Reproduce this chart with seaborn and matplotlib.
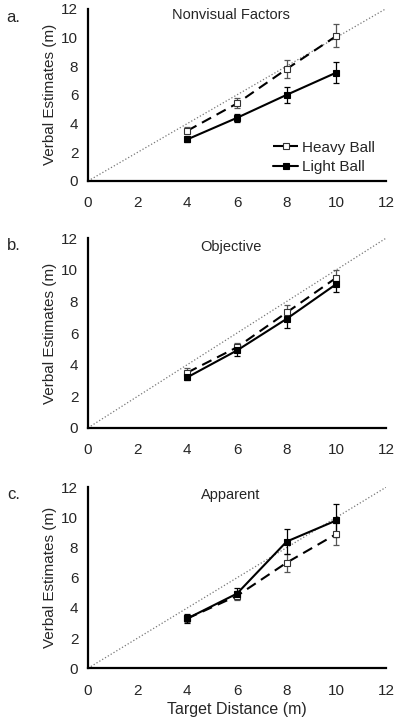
import matplotlib
matplotlib.use('Agg')
import matplotlib.pyplot as plt
import seaborn as sns
import pandas as pd

# target distances (m)
distances = [4, 6, 8, 10]
panels = ['Nonvisual Factors', 'Objective', 'Apparent']
panel_tags = ['a.', 'b.', 'c.']

# verbal estimates, per panel
heavy_mean = [[3.5, 5.4, 7.8, 10.1], [3.5, 5.1, 7.3, 9.5], [3.3, 4.8, 7.0, 8.9]]
heavy_err = [[0.25, 0.35, 0.6, 0.8], [0.3, 0.3, 0.5, 0.5], [0.25, 0.3, 0.6, 0.7]]
light_mean = [[2.9, 4.4, 6.0, 7.55], [3.2, 4.9, 6.9, 9.1], [3.3, 4.95, 8.4, 9.8]]
light_err = [[0.15, 0.3, 0.55, 0.75], [0.2, 0.35, 0.55, 0.5], [0.3, 0.35, 0.85, 1.1]]

sns.set_style('white')
plt.rcParams['font.family'] = ['Liberation Sans', 'DejaVu Sans']

fig = plt.figure(figsize=(4, 7.24), dpi=100)

# axes boxes in figure coords (left, bottom, width, height)
boxes = [(0.22, 0.75, 0.745, 0.238),
         (0.22, 0.409, 0.745, 0.262),
         (0.22, 0.077, 0.745, 0.250)]
tag_y = [0.99, 1.0, 1.0]

for i, name in enumerate(panels):
    ax = fig.add_axes(boxes[i])
    heavy = pd.DataFrame({'distance': distances, 'estimate': heavy_mean[i], 'err': heavy_err[i]})
    light = pd.DataFrame({'distance': distances, 'estimate': light_mean[i], 'err': light_err[i]})

    # veridical line
    ax.plot([0, 12], [0, 12], linestyle=':', color='#777777', linewidth=0.9, zorder=1)

    ax.errorbar(heavy['distance'], heavy['estimate'], yerr=heavy['err'], fmt='none',
                ecolor='#555555', elinewidth=0.9, capsize=2, capthick=0.9, zorder=2)
    ax.errorbar(light['distance'], light['estimate'], yerr=light['err'], fmt='none',
                ecolor='black', elinewidth=0.9, capsize=2, capthick=0.9, zorder=2)

    sns.lineplot(data=heavy, x='distance', y='estimate', ax=ax, color='black',
                 linewidth=1.5, linestyle=(0, (5, 3)), marker='s', markersize=5,
                 markerfacecolor='white', markeredgecolor='#333333', markeredgewidth=0.8,
                 label='Heavy Ball', zorder=3)
    sns.lineplot(data=light, x='distance', y='estimate', ax=ax, color='black',
                 linewidth=1.5, marker='s', markersize=5,
                 markerfacecolor='black', markeredgecolor='black', markeredgewidth=0.8,
                 label='Light Ball', zorder=4)

    ax.set_xlim(0, 12)
    ax.set_ylim(0, 12)
    ax.set_xticks(range(0, 13, 2))
    ax.set_yticks(range(0, 13, 2))
    ax.tick_params(labelsize=11, length=0)
    ax.tick_params(axis='x', pad=11)
    ax.tick_params(axis='y', pad=7)
    for s in ['top', 'right']:
        ax.spines[s].set_visible(False)
    for s in ['left', 'bottom']:
        ax.spines[s].set_linewidth(1.6)
        ax.spines[s].set_color('black')
    ax.set_ylabel('Verbal Estimates (m)', fontsize=11, labelpad=3)
    ax.set_xlabel('Target Distance (m)' if i == 2 else '', fontsize=11.5, labelpad=3)
    ax.set_title(name, fontsize=10.5, y=0.89, x=0.48)
    ax.text(-0.25, tag_y[i], panel_tags[i], transform=ax.transAxes, fontsize=12,
            ha='center', va='top')

    if i == 0:
        ax.legend(loc='lower right', bbox_to_anchor=(1.01, -0.04), frameon=False,
                  fontsize=11, handlelength=1.6, handletextpad=0.3, labelspacing=0.35)
    else:
        ax.get_legend().remove()

fig.savefig('out.png', dpi=100, facecolor='white')
